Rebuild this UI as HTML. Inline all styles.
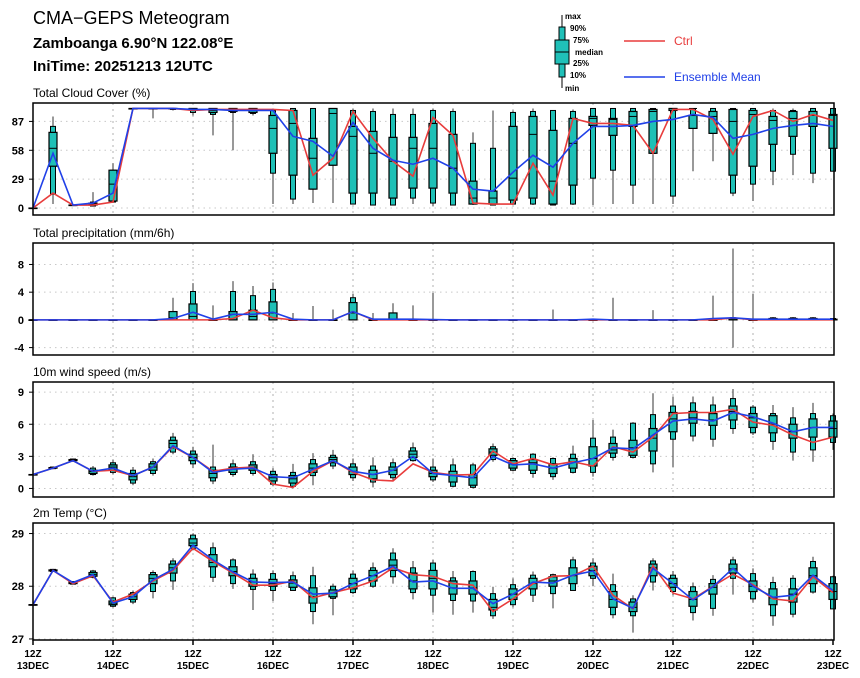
<!DOCTYPE html>
<html><head><meta charset="utf-8"><style>
html,body{margin:0;padding:0;background:#fff;width:860px;height:678px;overflow:hidden}
svg{display:block;font-family:"Liberation Sans",sans-serif}
</style></head><body>
<svg id="chart" width="860" height="678" viewBox="0 0 860 678" xmlns="http://www.w3.org/2000/svg">
<text x="33" y="24" font-size="18">CMA−GEPS Meteogram</text>
<text x="33" y="48" font-size="15" font-weight="bold">Zamboanga 6.90°N 122.08°E</text>
<text x="33" y="71" font-size="15" font-weight="bold">IniTime: 20251213 12UTC</text>
<g>
<line x1="562" y1="15" x2="562" y2="88" stroke="#000"/>
<rect x="559" y="27" width="6" height="50" fill="#20c0b8" stroke="#000"/>
<rect x="555" y="40" width="14" height="24" fill="#20c0b8" stroke="#000"/>
<line x1="555" y1="52" x2="569" y2="52" stroke="#000"/>
<g font-size="8" font-weight="bold">
<text x="565" y="19">max</text><text x="570" y="31">90%</text><text x="573" y="43">75%</text>
<text x="575" y="55">median</text><text x="573" y="66">25%</text><text x="570" y="78">10%</text><text x="565" y="91">min</text></g>
<line x1="624" y1="41" x2="665" y2="41" stroke="#e83c3c" stroke-width="1.5"/>
<text x="674" y="45" font-size="12" fill="#e83c3c">Ctrl</text>
<line x1="624" y1="77" x2="665" y2="77" stroke="#2040e8" stroke-width="1.5"/>
<text x="674" y="81" font-size="12" fill="#2040e8">Ensemble Mean</text>
</g>
</svg>
<script>
const xLabelsTop=["12Z","12Z","12Z","12Z","12Z","12Z","12Z","12Z","12Z","12Z","12Z"];
const xLabelsBottom=["13DEC","14DEC","15DEC","16DEC","17DEC","18DEC","19DEC","20DEC","21DEC","22DEC","23DEC"];

const cloudCtrl=[0,15,3,3,6,100,100,100,98,99,99,99,99,98,33,50,97,70,47,32,91,73,5,4,4,45,13,90,85,85,83,55,99,99,89,54,92,98,87,94,88];
const cloudMean=[0,55,3,5,15,100,100,100,99,99,98,98,98,72,67,52,86,60,48,44,50,40,19,17,36,53,41,65,82,82,83,87,89,94,91,70,74,80,83,85,82];
const cloudBox=[[0,0,0,0,0,0,0],[4,14,42,60,76,82,92],[3,3,3,3,3,3,3],[2,2,3,4,5,6,16],[5,6,7,24,38,38,45],
[100,100,100,100,100,100,100],[90,100,100,100,100,100,100],[98,99,100,100,100,100,100],[93,96,100,100,100,100,100],[73,94,96,98,100,100,100],
[58,96,97,99,100,100,100],[93,95,96,99,100,100,100],[4,35,55,80,93,98,100],[4,9,33,85,98,100,100],[5,19,19,50,70,100,100],
[5,43,43,95,100,100,100],[4,4,15,72,82,98,100],[3,3,15,55,77,97,100],[3,3,10,47,71,94,100],[4,10,20,60,71,94,100],
[2,5,20,60,85,98,100],[3,3,15,40,74,97,100],[3,4,4,10,27,65,76],[3,3,4,10,17,60,98],[3,4,8,30,82,96,98],
[3,4,10,74,92,97,100],[3,3,4,27,78,98,98],[3,4,23,65,90,97,99],[3,30,83,90,92,100,100],[4,38,73,89,90,100,100],
[4,23,82,92,97,100,100],[4,55,55,97,99,100,100],[4,12,98,100,100,100,100],[37,80,80,100,93,100,100],[47,75,75,92,97,100,100],
[12,15,33,87,99,100,100],[7,24,42,94,98,100,100],[23,37,64,88,92,98,100],[33,54,72,90,97,98,100],[25,35,82,93,97,100,100],[37,37,60,93,94,100,100]];

const precCtrl=[0,0,0,0,0,0,0,0,0,0,0.2,1.4,0.3,0,0,0,1.2,0,0,0,0,0,0,0,0,0,0,0,0,0,0,0,0,0,0,0.3,0,0,0,0,0];
const precMean=[0,0,0,0,0,0,0,0.2,1.1,0.1,0.8,0.8,1.1,0.1,0,0,1.2,0.1,0.1,0.1,0.05,0,0,0,0,0,0,0,0.1,0,0,0,0,0,0.2,0.3,0.1,0.1,0.1,0.1,0.1];
const precMax=[0,0,0,0,0,0,0,3.2,5.3,2.1,5.6,4.9,5.4,1.0,2.0,1.5,3.8,1.0,2.4,2.1,3.9,0,0,0,0,0,1.5,0,0,3.2,0,1.4,0,0,3.5,10.3,3.8,0.4,0.4,0.4,0.2];
const precMin=[0,0,0,0,0,0,0,0,0,0,0,0,0,0,0,0,0,0,0,0,0,0,0,0,0,0,0,0,0,0,0,0,0,0,0,-4,0,0,0,0,0];
const precP90=[0,0,0,0,0,0,0,1.2,4.1,0,4.1,3.5,4.4,0,0,0,3.2,0,1.0,0,0,0,0,0,0,0,0,0,0,0,0,0,0,0,0,0.3,0,0.3,0.3,0.3,0.2];
const precP75=[0,0,0,0,0,0,0,1.2,2.3,0,1.2,1.4,2.6,0,0,0,2.5,0,1.0,0,0,0,0,0,0,0,0,0,0,0,0,0,0,0,0,0.2,0,0.2,0.2,0.2,0.1];
const precMed=[0,0,0,0,0,0,0,0.3,0.5,0,0.8,0.5,1.0,0,0,0,1.0,0,0,0,0,0,0,0,0,0,0,0,0,0,0,0,0,0,0,0,0,0,0,0,0];

const windCtrl=[1.3,1.9,2.6,1.6,1.7,1.2,2.0,3.9,2.9,1.6,1.9,2.0,0.4,0.1,1.6,2.6,1.5,0.8,0.7,2.3,1.5,1.25,1.3,3.5,2.3,2.8,2.2,2.5,2.1,3.9,3.4,4.8,7.0,7.1,7.1,7.4,6.2,5.9,5.0,4.3,4.8];
const windMean=[1.3,1.9,2.6,1.6,1.9,1.2,2.0,4.0,2.9,1.5,1.8,1.9,1.1,1.0,1.8,2.6,1.6,1.3,1.7,3.0,1.4,1.2,1.0,3.0,2.2,2.3,1.9,2.4,2.8,3.8,3.7,5.0,6.3,6.5,6.3,7.1,6.7,6.1,5.3,5.7,5.7];
const windBox=[[1.3,1.3,1.3,1.3,1.3,1.3,1.3],[1.8,1.85,1.9,1.9,1.95,2.0,2.0],[2.5,2.55,2.6,2.65,2.7,2.75,2.8],[1.2,1.3,1.4,1.6,1.7,1.9,2.1],
[1.3,1.5,1.7,2.0,2.2,2.4,2.7],[0.3,0.5,0.8,1.1,1.4,1.7,2.0],[1.2,1.4,1.7,2.0,2.3,2.5,2.8],[3.2,3.4,3.8,4.2,4.5,4.8,5.2],
[1.9,2.3,2.6,2.9,3.2,3.5,3.9],[0.4,0.7,1.0,1.4,1.7,2.0,4.1],[1.1,1.3,1.5,1.8,2.0,2.3,2.7],[1.2,1.4,1.7,2.0,2.2,2.5,3.2],
[0.2,0.4,0.7,1.0,1.3,1.6,1.9],[0.0,0.2,0.5,0.9,1.2,1.5,2.3],[0.3,1.2,1.5,1.9,2.3,2.7,3.3],[1.8,2.1,2.4,2.7,2.9,3.1,3.6],
[0.7,1.0,1.3,1.6,2.0,2.3,2.8],[0.1,0.6,0.9,1.3,1.7,2.1,2.9],[0.7,1.0,1.3,1.7,2.0,2.4,2.8],[2.5,2.6,2.9,3.2,3.5,3.8,4.3],
[0.6,0.8,1.1,1.4,1.7,2.0,2.8],[0.1,0.2,0.6,1.2,1.6,2.2,2.8],[0.0,0.1,0.3,1.0,1.3,2.2,2.4],[2.5,2.7,3.1,3.4,3.7,3.9,4.2],
[1.6,1.7,1.9,2.3,2.6,2.8,2.9],[1.0,1.4,1.7,2.4,2.7,3.2,3.3],[0.8,1.1,1.4,1.9,2.3,2.8,2.9],[1.4,1.5,1.9,2.5,2.8,3.2,4.0],
[1.1,1.5,2.1,2.8,3.9,4.7,6.4],[2.6,2.9,3.3,3.6,4.2,4.8,5.5],[2.8,2.9,3.1,3.8,4.5,6.1,6.2],[1.5,2.3,3.5,4.7,5.6,6.9,8.9],
[2.0,4.6,5.3,6.5,7.1,7.7,8.6],[4.4,4.9,6.1,6.6,7.2,8.0,8.6],[3.9,4.6,5.9,6.4,7.0,7.8,8.6],[5.1,5.6,6.4,7.2,7.7,8.4,9.3],
[5.0,5.2,5.7,6.6,7.0,7.6,7.8],[3.6,4.4,5.2,6.0,6.8,7.0,7.8],[2.6,3.4,4.7,5.3,6.0,6.6,7.6],[2.5,3.6,4.8,5.7,6.5,7.0,8.0],[3.6,4.3,4.8,5.6,6.3,6.8,7.0]];

const tempCtrl=[27.65,28.3,28.05,28.2,27.7,27.85,28.1,28.3,28.72,28.47,28.25,28.02,28.02,28.1,27.78,27.88,27.97,28.1,28.35,28.22,28.19,28.05,28.02,27.52,27.76,28.05,28.19,28.2,28.38,27.83,27.57,28.39,27.87,27.76,28.0,28.23,28.03,27.76,27.72,28.18,27.88];
const tempMean=[27.65,28.3,28.07,28.22,27.68,27.8,28.12,28.32,28.78,28.5,28.27,28.08,28.07,28.08,27.85,27.87,28.05,28.2,28.38,28.08,28.1,27.96,27.96,27.67,27.85,28.08,28.06,28.21,28.29,27.76,27.58,28.34,28.05,27.74,27.99,28.34,28.0,27.79,27.83,28.21,27.92];
const tempBox=[[27.65,27.65,27.65,27.65,27.65,27.65,27.65],[28.27,28.28,28.29,28.3,28.31,28.32,28.33],[28.03,28.04,28.05,28.07,28.08,28.09,28.1],
[28.15,28.17,28.19,28.22,28.26,28.29,28.31],[27.6,27.62,27.65,27.68,27.72,27.78,27.8],[27.66,27.7,27.75,27.8,27.85,27.88,27.92],
[27.77,27.9,28.05,28.15,28.22,28.26,28.3],[27.93,28.1,28.25,28.35,28.42,28.48,28.53],[28.68,28.72,28.77,28.82,28.9,28.97,29.0],
[28.08,28.17,28.37,28.45,28.6,28.73,28.83],[27.95,28.05,28.2,28.28,28.37,28.5,28.53],[27.55,27.94,28.0,28.08,28.15,28.23,28.32],
[27.72,27.92,28.0,28.05,28.13,28.24,28.3],[27.92,27.92,27.98,28.06,28.12,28.2,28.28],[27.28,27.52,27.68,27.8,27.97,28.2,28.37],
[27.45,27.77,27.8,27.87,27.93,28.0,28.05],[27.85,27.88,27.95,28.05,28.15,28.23,28.3],[27.97,28.0,28.1,28.2,28.3,28.35,28.45],
[28.05,28.18,28.3,28.4,28.5,28.63,28.72],[27.75,27.88,27.95,28.1,28.25,28.35,28.48],[27.5,27.83,27.95,28.15,28.3,28.44,28.5],
[27.46,27.73,27.85,27.97,28.1,28.16,28.29],[27.5,27.72,27.85,27.97,28.1,28.28,28.3],[27.38,27.44,27.55,27.6,27.75,27.86,27.99],
[27.6,27.65,27.75,27.85,27.95,28.03,28.15],[27.7,27.83,27.95,28.05,28.15,28.21,28.28],[27.58,27.86,28.0,28.1,28.18,28.22,28.24],
[27.92,27.92,28.05,28.2,28.35,28.5,28.56],[28.0,28.15,28.2,28.3,28.38,28.44,28.53],[27.39,27.46,27.6,27.75,27.9,28.03,28.24],
[27.12,27.44,27.52,27.6,27.7,27.76,27.83],[27.92,28.08,28.2,28.35,28.42,28.48,28.53],[27.83,27.9,27.98,28.05,28.15,28.21,28.29],
[27.35,27.5,27.62,27.75,27.9,27.99,28.07],[27.44,27.58,27.85,27.98,28.05,28.13,28.21],[27.84,28.15,28.25,28.33,28.42,28.5,28.56],
[27.69,27.76,27.9,28.0,28.1,28.24,28.34],[27.25,27.44,27.65,27.78,27.95,28.07,28.18],[27.41,27.47,27.7,27.85,27.95,28.15,28.21],
[27.86,27.89,28.05,28.2,28.35,28.47,28.56],[27.57,27.57,27.75,27.9,28.05,28.18,28.2]];

const cloudTicks=[0,29,58,87];
const precTicks=[-4,0,4,8];
const windTicks=[0,3,6,9];
const tempTicks=[27,28,29];

const svg=document.getElementById('chart');
const NS='http://www.w3.org/2000/svg';
function mk(tag,attrs,parent){const e=document.createElementNS(NS,tag);for(const k in attrs)e.setAttribute(k,attrs[k]);(parent||svg).appendChild(e);return e;}
const X0=33,X1=834,DX=20;
function xs(i){return X0+DX*i;}

function panel(name,title,top,bottom,vmin,vmax,ticks,boxes,ctrl,mean){
  const g=mk('g',{});
  
  
  const ys=v=>bottom-(v-vmin)/(vmax-vmin)*(bottom-top);
  const t=mk('text',{x:33,y:top-6,'font-size':12},g);t.textContent=title;
  
  
  ticks.forEach(v=>{
    mk('line',{x1:X0,x2:X1,y1:ys(v),y2:ys(v),stroke:'#c8c8c8','stroke-dasharray':'1.5,4'},g);
    mk('line',{x1:X0-4,x2:X0,y1:ys(v),y2:ys(v),stroke:'#000'},g);
    const l=mk('text',{x:24,y:ys(v)+4,'font-size':11,'font-weight':'bold','text-anchor':'end'},g);l.textContent=v;
    
    
  });
  for(let d=1;d<10;d++){mk('line',{x1:xs(d*4),x2:xs(d*4),y1:top,y2:bottom,stroke:'#b0b0b0','stroke-dasharray':'2,4'},g);}
  const bg=mk('g',{},g);
  
  
  boxes.forEach((b,i)=>{
    const x=xs(i);
    const bx=mk('g',{},bg);
    
    
    mk('line',{x1:x,x2:x,y1:ys(b[0]),y2:ys(b[6]),stroke:'#333','stroke-width':1},bx);
    mk('rect',{x:x-2.5,y:ys(b[5]),width:5,height:Math.max(0.5,ys(b[1])-ys(b[5])),fill:'#1ec0b6',stroke:'#000','stroke-width':1},bx);
    mk('rect',{x:x-4,y:ys(b[4]),width:8,height:Math.max(0.5,ys(b[2])-ys(b[4])),fill:'#1ec0b6',stroke:'#000','stroke-width':1.2},bx);
    mk('line',{x1:x-4,x2:x+4,y1:ys(b[3]),y2:ys(b[3]),stroke:'#000','stroke-width':1},bx);
  });
  const pts=a=>a.map((v,i)=>xs(i)+','+ys(v)).join(' ');
  const c=mk('polyline',{points:pts(ctrl),fill:'none',stroke:'#e83c3c','stroke-width':1.6},g);
  
  
  const m=mk('polyline',{points:pts(mean),fill:'none',stroke:'#2040e8','stroke-width':1.6},g);
  
  
  const f=mk('rect',{x:X0,y:top,width:X1-X0,height:bottom-top,fill:'none',stroke:'#000','stroke-width':1.5},g);
  
  
}
const precBox=precMax.map((v,i)=>[precMin[i],0,0,precMed[i],precP75[i],precP90[i],v]);
panel('cloud-cover','Total Cloud Cover (%)',103,215,-7,105.5,cloudTicks,cloudBox,cloudCtrl,cloudMean);
panel('precipitation','Total precipitation (mm/6h)',243,355,-5.07,11.1,precTicks,precBox,precCtrl,precMean);
panel('wind-speed','10m wind speed (m/s)',382,497,-0.8,9.95,windTicks,windBox,windCtrl,windMean);
panel('temperature','2m Temp (°C)',523,640,26.98,29.2,tempTicks,tempBox,tempCtrl,tempMean);

xLabelsTop.forEach((s,k)=>{
  const x=xs(k*4);
  mk('line',{x1:x,x2:x,y1:640,y2:645,stroke:'#000','stroke-width':1.5});
  const a=mk('text',{x:x,y:657,'font-size':10,'font-weight':'bold','text-anchor':'middle'});a.textContent=s;
  
  
  const b=mk('text',{x:x,y:669,'font-size':10,'font-weight':'bold','text-anchor':'middle'});b.textContent=xLabelsBottom[k];
  
  
});
</script>
</body></html>
